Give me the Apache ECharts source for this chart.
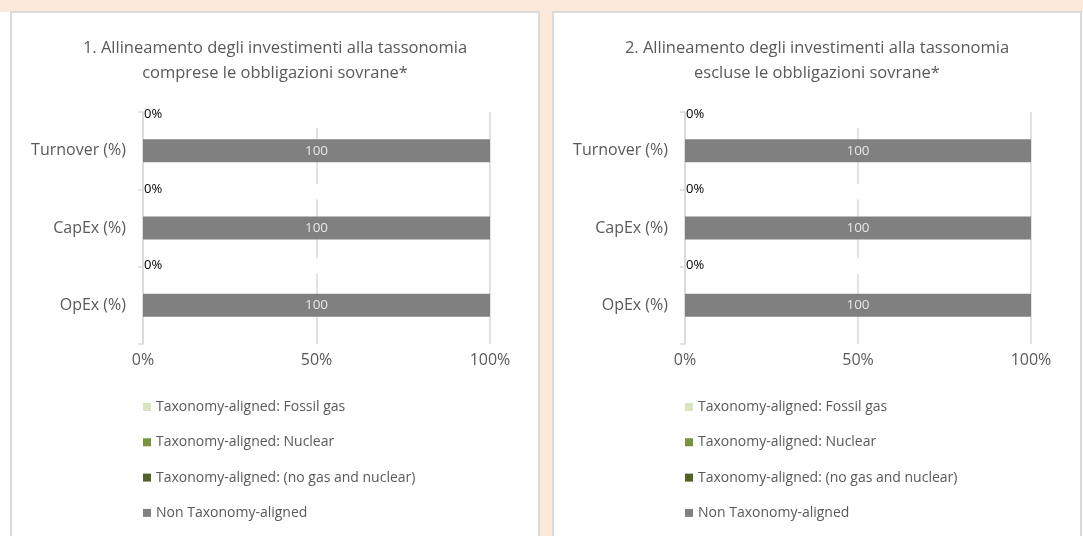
<!DOCTYPE html>
<html>
<head>
<meta charset="utf-8">
<title>Allineamento tassonomia</title>
<script src="https://cdn.jsdelivr.net/npm/echarts@6/dist/echarts.min.js"></script>
<style>
  html, body { margin: 0; padding: 0; background: #fff; }
  #wrap { position: relative; width: 1083px; height: 536px; overflow: hidden; }
  .peach { position: absolute; background: #fce9d9; }
  .panel { position: absolute; top: 11px; width: 530px; height: 600px; background: #fff;
           border: 2px solid #dadada; box-sizing: border-box; }
  #main { position: absolute; left: 0; top: 0; width: 1083px; height: 536px; }
</style>
</head>
<body>
<div id="wrap">
  <div class="peach" style="left:0;top:0;width:1083px;height:12px"></div>
  <div class="peach" style="left:540px;top:0;width:12px;height:536px"></div>
  <div class="panel" style="left:10px"></div>
  <div class="panel" style="left:552px"></div>
  <div id="main"></div>
</div>
<script>
// dati
var categories = ['Turnover (%)', 'CapEx (%)', 'OpEx (%)'];
var seriesNames = [
  'Taxonomy-aligned: Fossil gas',
  'Taxonomy-aligned: Nuclear',
  'Taxonomy-aligned: (no gas and nuclear)',
  'Non Taxonomy-aligned'
];
var xTicks = [0, 50, 100];

// grafico 1: comprese le obbligazioni sovrane
var fossilGas1 = [0, 0, 0];
var nuclear1 = [0, 0, 0];
var noGasNuclear1 = [0, 0, 0];
var nonAligned1 = [100, 100, 100];

// grafico 2: escluse le obbligazioni sovrane
var fossilGas2 = [0, 0, 0];
var nuclear2 = [0, 0, 0];
var noGasNuclear2 = [0, 0, 0];
var nonAligned2 = [100, 100, 100];

var titles = [
  '1. Allineamento degli investimenti alla tassonomia\ncomprese le obbligazioni sovrane*',
  '2. Allineamento degli investimenti alla tassonomia\nescluse le obbligazioni sovrane*'
];

var colors = ['#d7e4bd', '#77933c', '#4f6228', '#808080'];
var font = 'Open Sans';
var txt = '#595959';

// spostamenti verticali delle etichette "0%" (come nell'originale, non allineate)
var zeroLabelDy = [-31, -34, -35.5];
// riquadri bianchi delle etichette vuote che interrompono la griglia al 50%
var blankLabelDy = [-27, -32.5, -35.5];

// layout dei due pannelli
var panels = [
  { center: 275, left: 143, width: 347, top: 112, height: 232, legendLeft: 143 },
  { center: 817, left: 685, width: 346, top: 112, height: 232, legendLeft: 685 }
];
var values = [
  [fossilGas1, nuclear1, noGasNuclear1, nonAligned1],
  [fossilGas2, nuclear2, noGasNuclear2, nonAligned2]
];

var option = {
  animation: false,
  textStyle: { fontFamily: font },
  title: [],
  legend: [],
  grid: [],
  xAxis: [],
  yAxis: [],
  series: []
};

panels.forEach(function (p, i) {
  option.title.push({
    text: titles[i],
    left: p.center,
    top: 36,
    padding: 0,
    textAlign: 'center',
    textStyle: { fontFamily: font, fontSize: 16.5, fontWeight: 'normal', color: txt, lineHeight: 25 }
  });
  option.grid.push({ left: p.left, width: p.width, top: p.top, height: p.height });
  option.xAxis.push({
    type: 'value',
    gridIndex: i,
    min: xTicks[0],
    max: xTicks[xTicks.length - 1],
    interval: xTicks[1] - xTicks[0],
    axisLine: { show: false },
    axisTick: { show: false },
    axisLabel: { formatter: '{value}%', color: txt, fontSize: 16, margin: 8, fontFamily: font },
    splitLine: { lineStyle: { color: '#d9d9d9', width: 1.5 } }
  });
  option.yAxis.push({
    type: 'category',
    gridIndex: i,
    data: categories,
    inverse: true,
    axisLine: { lineStyle: { color: '#d9d9d9', width: 1.5 } },
    axisTick: { show: true, length: 5, lineStyle: { color: '#d9d9d9', width: 1.5 } },
    axisLabel: { color: txt, fontSize: 16, margin: 17, fontFamily: font }
  });
  option.legend.push({
    orient: 'vertical',
    left: p.legendLeft,
    top: 399,
    padding: 0,
    icon: 'rect',
    itemWidth: 8,
    itemHeight: 8,
    itemGap: 19.3,
    selectedMode: false,
    textStyle: { color: txt, fontSize: 14, fontFamily: font, lineHeight: 16 },
    data: seriesNames
  });
  seriesNames.forEach(function (name, k) {
    var s = {
      name: name,
      type: 'bar',
      xAxisIndex: i,
      yAxisIndex: i,
      stack: 'tot' + i,
      barWidth: 23,
      data: values[i][k],
      itemStyle: { color: colors[k] }
    };
    if (k === 0) {
      s.data = values[i][k].map(function (v, j) {
        return { value: v, label: { position: [1, zeroLabelDy[j]] } };
      });
      s.label = {
        show: true,
        formatter: '{c}%',
        color: '#000',
        fontSize: 13,
        fontFamily: font
      };
    }
    if (k === 1) {
      s.data = values[i][k].map(function (v, j) {
        return { value: v, label: { position: [169, blankLabelDy[j]] } };
      });
      s.label = {
        show: true,
        formatter: ' ',
        backgroundColor: '#fff',
        width: 8,
        height: 15.5,
        fontSize: 10
      };
    }
    if (k === 3) {
      s.label = {
        show: true,
        position: 'inside',
        formatter: '{c}',
        color: '#e6e6e6',
        fontSize: 13.5,
        fontFamily: font
      };
    }
    option.series.push(s);
  });
});

var chart = echarts.init(document.getElementById('main'), null, { renderer: 'canvas' });
chart.setOption(option);
</script>
</body>
</html>
